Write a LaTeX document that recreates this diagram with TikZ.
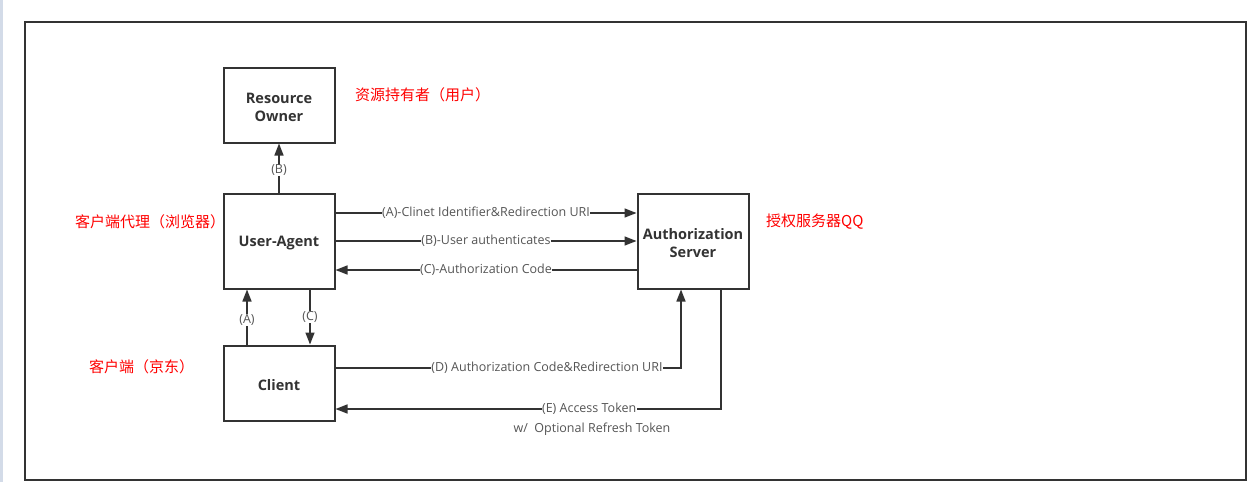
\documentclass[tikz,border=0pt]{standalone}
\usepackage{fontspec}
\setmainfont{Open Sans}
\newfontfamily\cjk{Noto Sans CJK SC}
\usetikzlibrary{arrows.meta}
\definecolor{ln}{HTML}{333333}
\definecolor{lt}{HTML}{555555}
\definecolor{stripe}{HTML}{D3DBE8}
\newcommand{\dnshift}[1]{\raisebox{-2.5pt}[\height][\depth]{#1}}
\begin{document}
\begin{tikzpicture}[x=1pt,y=-1pt,
  box/.style={draw=ln,line width=2pt,minimum width=111pt,text width=108pt,align=center,
    font=\bfseries\fontsize{14.5}{18}\selectfont,text=ln,inner sep=0pt},
  arr/.style={draw=ln,line width=1.5pt,-{Triangle[length=12pt,width=9pt]}},
  lbl/.style={fill=white,text=lt,font=\fontsize{12.5}{14}\selectfont,inner sep=0.5pt},
  note/.style={text=red,font=\cjk\fontsize{15}{17}\selectfont,anchor=west,inner sep=0pt}
]
\useasboundingbox (0,0) rectangle (1248,482);
\fill[white] (0,0) rectangle (1248,482);
\fill[stripe] (0,0) rectangle (2.5,482);
\draw[ln,line width=2pt] (25,22) rectangle (1246,480);

\node[box,minimum height=75pt] (RO) at (279,105) {\dnshift{Resource}\\\dnshift{Owner}};
\node[box,minimum height=95pt] (UA) at (279,241) {\dnshift{User-Agent}};
\node[box,minimum height=95pt] (AS) at (693,241) {\dnshift{Authorization}\\\dnshift{Server}};
\node[box,minimum height=75pt] (CL) at (279,383) {\dnshift{Client}};

\node[note] (nRO) at (355,95) {资源持有者（用户）};
\node[note] (nUA) at (75,222) {客户端代理（浏览器）};
\node[note] (nAS) at (766,222) {授权服务器QQ};
\node[note] (nCL) at (89,367) {客户端（京东）};

\draw[arr] (UA.north) -- node[lbl,pos=0.45] {(B)} (RO.south);
\draw[arr] ([yshift=28pt]UA.east) -- node[lbl] {(A)-Clinet Identifier\&Redirection URI} ([yshift=28pt]AS.west);
\draw[arr] (UA.east) -- node[lbl] {(B)-User authenticates} (AS.west);
\draw[arr] ([yshift=-29pt]AS.west) -- node[lbl] {(C)-Authorization Code} ([yshift=-29pt]UA.east);
\draw[arr] ([xshift=-32pt]CL.north) -- node[lbl,pos=0.45] {(A)} ([xshift=-32pt]UA.south);
\draw[arr] ([xshift=31pt]UA.south) -- node[lbl,pos=0.5] {(C)} ([xshift=31pt]CL.north);
\draw[arr] ([yshift=15pt]CL.east) -| node[lbl,pos=0.306] {(D) Authorization Code\&Redirection URI} ([xshift=-12pt]AS.south);
\draw[arr] ([xshift=28pt]AS.south) |- node[lbl,pos=0.671] (eLab) {(E) Access Token} ([yshift=-26pt]CL.east);
\node[lbl,fill=none] (eLab2) at (592,429) {w/\ \ Optional Refresh Token};
\end{tikzpicture}
\end{document}
